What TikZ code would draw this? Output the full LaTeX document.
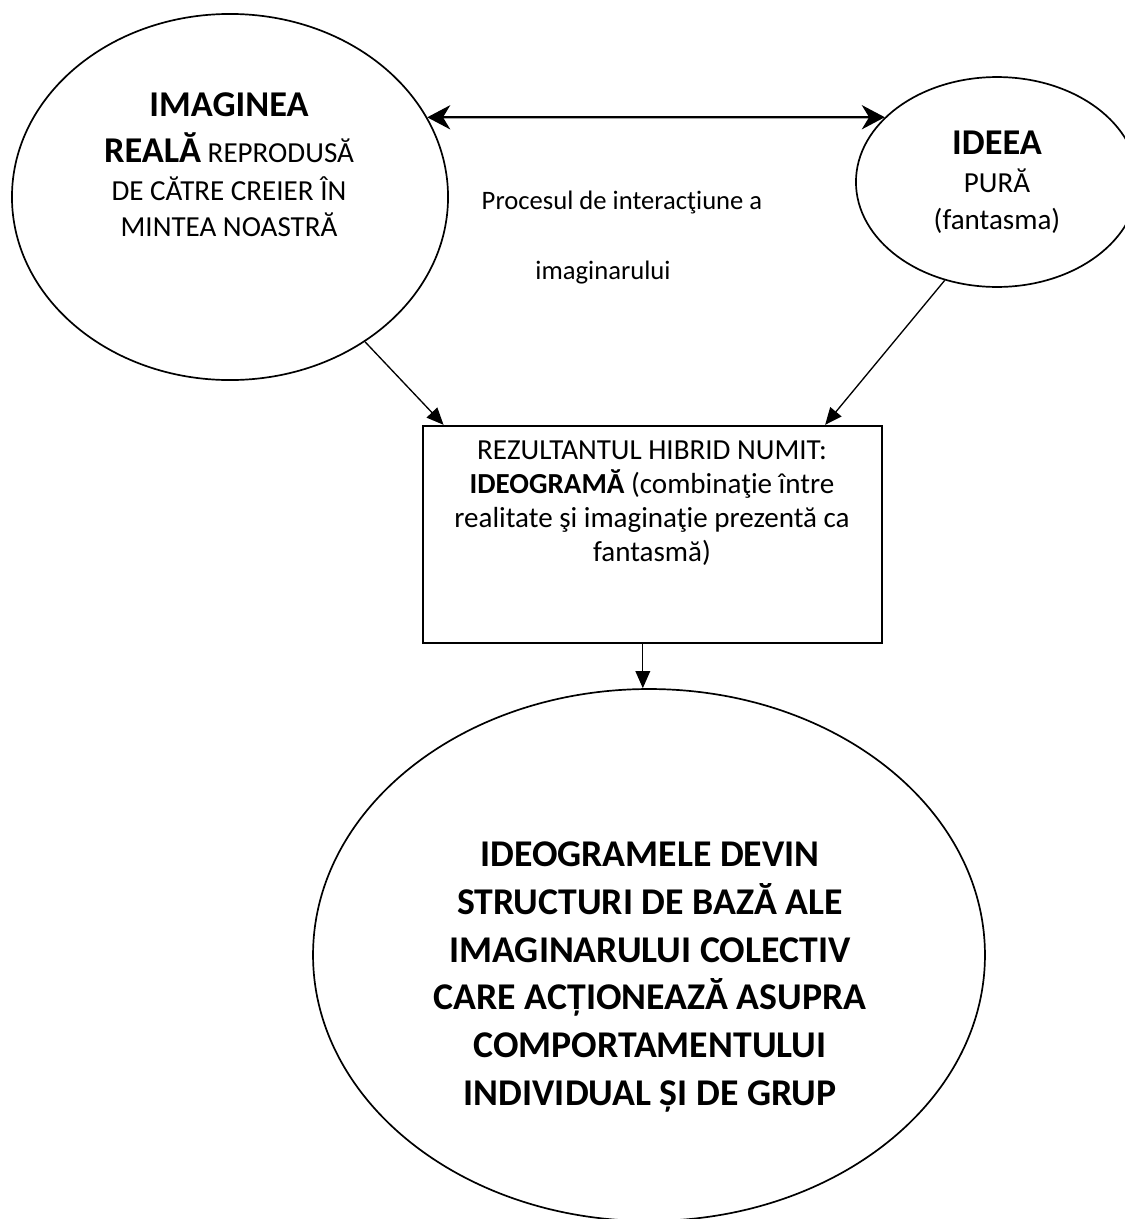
\documentclass[tikz,border=0pt]{standalone}
\usepackage{fontspec}
\setmainfont{Carlito}
\usetikzlibrary{shapes.geometric, arrows.meta, positioning}

\begin{document}
\begin{tikzpicture}[x=0.413pt, y=-0.413pt, font=\fontsize{12pt}{15pt}\selectfont]
    \tikzstyle{bubble}=[ellipse, draw, line width=0.7pt, inner sep=0pt]
    \tikzstyle{resultbox}=[rectangle, draw, line width=1pt, minimum width=189.6pt, minimum height=89.6pt]
    \tikzstyle{arr}=[-{Triangle[length=7pt,width=6pt]}, line width=0.55pt]
    \tikzstyle{twoway}=[{Stealth[length=9.5pt,width=10pt,inset=3pt]}-{Stealth[length=9.5pt,width=10pt,inset=3pt]}, line width=0.9pt]

    \useasboundingbox (0,0) rectangle (1125,1219);

    % Draw the two source ellipses
    \node[bubble, minimum width=180.1pt, minimum height=151.2pt] (real) at (230,197) {};
    \node[align=center] (realtext) at (229,165)
        {{\fontsize{15pt}{18pt}\selectfont\bfseries IMAGINEA}\\[4pt]
         {\fontsize{15pt}{18pt}\selectfont\bfseries REALĂ} REPRODUSĂ\\[0.7pt]
         DE CĂTRE CREIER ÎN\\ MINTEA NOASTRĂ};
    \node[bubble, minimum width=116.5pt, minimum height=86.7pt, align=center] (idea) at (997,182)
        {{\fontsize{15pt}{18pt}\selectfont\bfseries IDEEA}\\[1pt] PURĂ\\ (fantasma)};

    % Draw the interaction label
    \node[font=\fontsize{11pt}{13pt}\selectfont] (proc) at (622,202) {Procesul de interacţiune a};
    \node[font=\fontsize{11pt}{13pt}\selectfont] (procend) at (603,273) {imaginarului};

    % Draw the hybrid result box
    \node[resultbox] (box) at (652.5,534.5) {};
    \node[align=center, font=\fontsize{12pt}{14pt}\selectfont] (boxtext) at (652,503)
        {REZULTANTUL HIBRID NUMIT:\\ \textbf{IDEOGRAMĂ} (combinaţie între\\
         realitate şi imaginaţie prezentă ca\\ fantasmă)};

    % Draw the final ellipse
    \node[bubble, minimum width=277.5pt, minimum height=219.7pt] (result) at (649,955) {};
    \node[align=center, font=\fontsize{15.6pt}{19.7pt}\selectfont\bfseries] (resulttext) at (650,977)
        {IDEOGRAMELE DEVIN\\ STRUCTURI DE BAZĂ ALE\\ IMAGINARULUI COLECTIV\\
         CARE ACȚIONEAZĂ ASUPRA\\ COMPORTAMENTULUI\\ INDIVIDUAL ȘI DE GRUP};

    % Connect the ellipses with each other and with the box
    \draw[twoway] (real.22) -- (idea.150);
    \draw[arr] (real.-47) -- ([xshift=9pt]box.north west);
    \draw[arr] (idea.242) -- ([xshift=-24pt]box.north east);

    % Connect the box with the final ellipse
    \draw[arr] ([xshift=-4pt]box.south) -- ([xshift=-4pt]box.south |- result.north);

\end{tikzpicture}
\end{document}
